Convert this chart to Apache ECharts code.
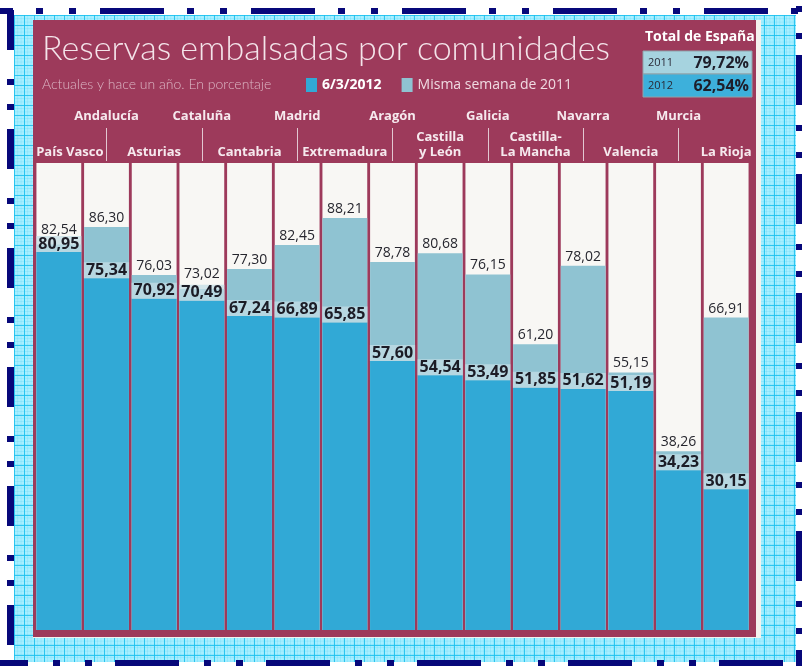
<!DOCTYPE html>
<html>
<head>
<meta charset="utf-8">
<script src="https://cdn.jsdelivr.net/npm/echarts@6/dist/echarts.min.js"></script>
<style>
  html, body { margin:0; padding:0; }
  body { width:802px; height:666px; background:#ffffff; position:relative; overflow:hidden; }
  #paper {
    position:absolute; left:14px; top:15px; width:782px; height:647px;
    background-color:#a8efff;
    background-image:
      linear-gradient(rgba(25,192,238,0.85) 1px, transparent 1px),
      linear-gradient(90deg, rgba(25,192,238,0.85) 1px, transparent 1px),
      linear-gradient(rgba(40,195,240,0.18) 1px, transparent 1px),
      linear-gradient(90deg, rgba(40,195,240,0.18) 1px, transparent 1px);
    background-size:10px 10px, 10px 10px, 3.33px 3.33px, 3.33px 3.33px;
  }
  .bt { position:absolute; left:0; width:802px; height:6px;
    background:repeating-linear-gradient(90deg,#07087a 0 13px,transparent 13px 36px,#07087a 36px 43px,transparent 43px 69px,#07087a 69px 76px,transparent 76px 100px,#07087a 100px 151px); }
  .bb { position:absolute; left:0; width:802px; height:6px;
    background:repeating-linear-gradient(90deg,#07087a 0 28px,transparent 28px 53px,#07087a 53px 60px,transparent 60px 85px,#07087a 85px 92px,transparent 92px 115px,#07087a 115px 151px); }
  .bl { position:absolute; top:0; width:7px; height:666px;
    background:repeating-linear-gradient(180deg,transparent 0 10px,#07087a 10px 50px,transparent 50px 79px,#07087a 79px 85px,transparent 85px 104px,#07087a 104px 110px,transparent 110px 119px); }
  .br { position:absolute; top:0; width:6px; height:666px;
    background:repeating-linear-gradient(180deg,transparent 0 6px,#07087a 6px 12px,transparent 12px 33px,#07087a 33px 39px,transparent 39px 55px,#07087a 55px 105px,transparent 105px 119px); }
  #sheet { position:absolute; left:33px; top:20px; width:728px; height:618px; background:#f4f2ee; }
  #main { position:absolute; left:33px; top:20px; width:723px; height:617px; }
</style>
</head>
<body>
<div id="paper"></div>
<div class="bt" style="top:8px"></div>
<div class="bb" style="top:660px"></div>
<div class="bl" style="left:7px"></div>
<div class="br" style="left:796px"></div>
<div id="sheet"></div>
<div id="main"></div>
<script>
const categories = ['País Vasco','Andalucía','Asturias','Cataluña','Cantabria','Madrid','Extremadura','Aragón','Castilla\ny León','Galicia','Castilla-\nLa Mancha','Navarra','Valencia','Murcia','La Rioja'];
const values2012 = [80.95,75.34,70.92,70.49,67.24,66.89,65.85,57.60,54.54,53.49,51.85,51.62,51.19,34.23,30.15];
const values2011 = [82.54,86.30,76.03,73.02,77.30,82.45,88.21,78.78,80.68,76.15,61.20,78.02,55.15,38.26,66.91];
const seriesNames = ['6/3/2012','Misma semana de 2011'];
const totalYears = ['2011','2012'];
const totalValues = [79.72, 62.54];

const fmt = v => v.toFixed(2).replace('.', ',');
const MAROON = '#9d3a5b';
const DARK = '#31a9d6';
const LIGHT = '#8fc3d2';
const catFont = { color:'#f6e9ee', fontWeight:'bold', fontSize:13, fontFamily:'Open Sans', lineHeight:15 };

// light labels get lifted a little when the two bars are nearly equal, so the labels don't collide
const lightData = values2011.map((v, i) => ({
  value: v,
  label: { distance: (v - values2012[i]) < 3 ? 8 : 2 }
}));

const chart = echarts.init(document.getElementById('main'));
chart.setOption({
  backgroundColor: MAROON,
  animation: false,
  title: [
    { text:'Reservas embalsadas por comunidades', left:4, top:7,
      textStyle:{ color:'#f4e4ea', fontSize:34, fontWeight:300, fontFamily:'Lato' } },
    { text:'Actuales y hace un año. En porcentaje', left:4, top:52,
      textStyle:{ color:'#dcb6c4', fontSize:14, fontWeight:300, fontFamily:'Lato' } }
  ],
  legend: {
    left: 268, top: 53, itemWidth: 11, itemHeight: 14, itemGap: 20, icon: 'rect',
    data: [
      { name: seriesNames[0], textStyle:{ color:'#ffffff', fontWeight:'bold', fontSize:14, fontFamily:'Open Sans' } },
      { name: seriesNames[1], textStyle:{ color:'#f0dbe2', fontWeight:'normal', fontSize:14, fontFamily:'Open Sans' } }
    ]
  },
  grid: { left: 2, right: 6, top: 143, bottom: 7, outerBoundsMode: 'none', containLabel: false },
  xAxis: [
    { type:'category', data: categories, position:'top',
      axisLine:{show:false}, axisTick:{show:false},
      axisLabel: Object.assign({ interval:(i)=>i%2===0, margin:3,
        formatter:(v, i) => i === 0 ? '{first|' + v + '}' : v,
        rich:{ first: Object.assign({ padding:[0,0,0,22] }, catFont) } }, catFont) },
    { type:'category', data: categories, position:'top', offset: 35,
      axisLine:{show:false},
      axisTick:{ show:true, inside:true, length:33, alignWithLabel:true, interval:(i)=>i%2===1,
                 lineStyle:{ color:'#e2c7d1', width:1 } },
      axisLabel: Object.assign({ interval:(i)=>i%2===1, margin:4 }, catFont) }
  ],
  yAxis: { type:'value', min:0, max:100, show:false, splitLine:{show:false} },
  series: [
    { name: seriesNames[1], type:'bar', data: lightData, xAxisIndex:0,
      barCategoryGap:'6%', barGap:'-100%',
      itemStyle:{ color: LIGHT },
      showBackground:true, backgroundStyle:{ color:'#f8f7f4' },
      label:{ show:true, position:'top', distance:2, formatter:p=>fmt(p.value),
              color:'#26262e', fontSize:14, fontFamily:'Open Sans' } },
    { name: seriesNames[0], type:'bar', data: values2012, xAxisIndex:0,
      barCategoryGap:'6%', barGap:'-100%',
      itemStyle:{ color: DARK },
      label:{ show:true, position:'top', distance:0, formatter:p=>fmt(p.value),
              color:'#1c1c26', fontSize:16, fontWeight:'bold', fontFamily:'Open Sans',
              backgroundColor:'rgba(196,222,230,0.75)', padding:[0,2,0,2] } }
  ],
  graphic: [
    { type:'text', left:612, top:10,
      style:{ text:'Total de España', fill:'#ffffff', font:'bold 14px "Open Sans"' } },
    { type:'rect', shape:{ x:610, y:31, width:109, height:23 }, style:{ fill:'#a6d3df', stroke:'#8fa3ab', lineWidth:1 } },
    { type:'rect', shape:{ x:610, y:54, width:109, height:23 }, style:{ fill:'#3db0db', stroke:'#8fa3ab', lineWidth:1 } },
    { type:'text', x:615, y:43, style:{ text: totalYears[0], fill:'#2a2a36', font:'11px "Liberation Sans Narrow", "Open Sans"', verticalAlign:'middle' } },
    { type:'text', x:615, y:66, style:{ text: totalYears[1], fill:'#2a2a36', font:'11px "Liberation Sans Narrow", "Open Sans"', verticalAlign:'middle' } },
    { type:'text', x:716, y:43, style:{ text: fmt(totalValues[0]) + '%', fill:'#1e1e2a', font:'bold 16px "Open Sans"', align:'right', verticalAlign:'middle' } },
    { type:'text', x:716, y:66, style:{ text: fmt(totalValues[1]) + '%', fill:'#1e1e2a', font:'bold 16px "Open Sans"', align:'right', verticalAlign:'middle' } }
  ]
});
</script>
</body>
</html>
